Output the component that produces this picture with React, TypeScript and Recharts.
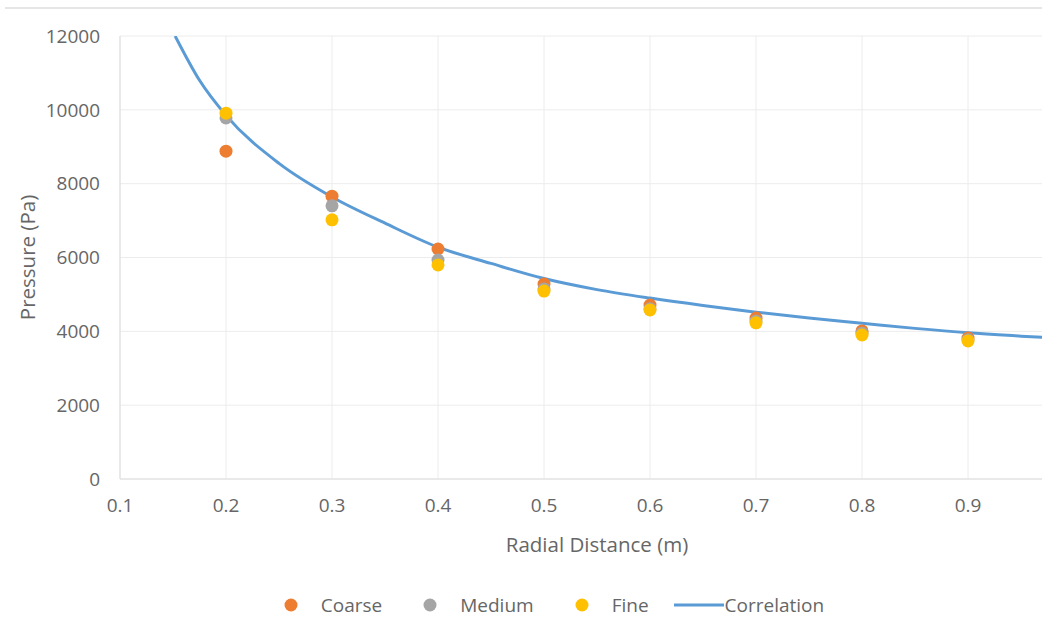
import {
  ComposedChart,
  Scatter,
  Line,
  XAxis,
  YAxis,
  CartesianGrid,
  Legend,
} from "recharts";

// radial positions of the mesh samples (m)
const RADII = [0.2, 0.3, 0.4, 0.5, 0.6, 0.7, 0.8, 0.9];

// pressure readings (Pa) per mesh
const COARSE = [8880, 7660, 6230, 5280, 4710, 4360, 4010, 3820];
const MEDIUM = [9780, 7400, 5930, 5150, 4610, 4280, 3950, 3770];
const FINE = [9910, 7020, 5800, 5090, 4580, 4230, 3900, 3740];

// correlation curve
const CURVE_R = [0.152, 0.175, 0.2, 0.25, 0.3, 0.35, 0.4, 0.45, 0.5, 0.55, 0.6, 0.65, 0.7, 0.75, 0.8, 0.85, 0.9, 0.95, 1.0];
const CURVE_P = [12000, 10800, 9850, 8550, 7640, 6930, 6280, 5840, 5430, 5130, 4900, 4700, 4520, 4360, 4220, 4080, 3960, 3870, 3790];

const X_TICKS = [0.1, 0.2, 0.3, 0.4, 0.5, 0.6, 0.7, 0.8, 0.9];
const Y_TICKS = [0, 2000, 4000, 6000, 8000, 10000, 12000];

const FONT = "'Open Sans', sans-serif";
const TEXT = "#666666";
const GRID = "#ececec";

const toPoints = (vals: number[]) => RADII.map((r, i) => ({ r, p: vals[i] }));

const coarseData = toPoints(COARSE);
const mediumData = toPoints(MEDIUM);
const fineData = toPoints(FINE);
const curveData = CURVE_R.map((r, i) => ({ r, p: CURVE_P[i] }));

const SERIES = [
  { name: "Coarse", color: "#ED7D31", kind: "dot" },
  { name: "Medium", color: "#A5A5A5", kind: "dot" },
  { name: "Fine", color: "#FFC000", kind: "dot" },
  { name: "Correlation", color: "#5B9BD5", kind: "line" },
];

function dotShape(color: string) {
  return (props: any) => (
    <circle cx={props.cx} cy={props.cy} r={6.5} fill={color} />
  );
}

function XTitle(props: any) {
  const vb = props.viewBox;
  return (
    <text
      x={vb.x + vb.width / 2}
      y={552}
      textAnchor="middle"
      fill={TEXT}
      fontSize={20.5}
      fontFamily={FONT}
    >
      Radial Distance (m)
    </text>
  );
}

function YTitle(props: any) {
  const vb = props.viewBox;
  const cy = vb.y + vb.height / 2;
  return (
    <text
      x={27}
      y={cy}
      transform={`rotate(-90, 27, ${cy})`}
      textAnchor="middle"
      dominantBaseline="central"
      fill={TEXT}
      fontSize={20.5}
      fontFamily={FONT}
    >
      Pressure (Pa)
    </text>
  );
}

function LegendBox() {
  return (
    <div
      style={{
        display: "flex",
        justifyContent: "center",
        alignItems: "center",
        height: 24,
        paddingLeft: 34,
        fontFamily: FONT,
        fontSize: 19,
        color: TEXT,
      }}
    >
      {SERIES.map((s, i) => (
        <div
          key={s.name}
          style={{
            display: "flex",
            alignItems: "center",
            marginLeft: i === 0 ? 0 : s.kind === "line" ? 25 : 41,
          }}
        >
          {s.kind === "dot" ? (
            <svg width={14} height={14} style={{ marginRight: 23 }}>
              <circle cx={7} cy={7} r={6.5} fill={s.color} />
            </svg>
          ) : (
            <svg width={50} height={14} style={{ marginRight: 1 }}>
              <line x1={0} y1={7} x2={50} y2={7} stroke={s.color} strokeWidth={3} />
            </svg>
          )}
          <span>{s.name}</span>
        </div>
      ))}
    </div>
  );
}

export default function App() {
  return (
    <div
      style={{
        position: "absolute",
        left: 0,
        top: 0,
        width: 1042,
        height: 617,
        overflow: "hidden",
        background: "#ffffff",
      }}
    >
      <div
        style={{
          position: "absolute",
          left: 5,
          top: 7,
          width: 1100,
          height: 2,
          background: "#e6e6e6",
        }}
      />
      <ComposedChart
        width={1108}
        height={617}
        margin={{ top: 36, right: 34, bottom: 0, left: 0 }}
      >
        <CartesianGrid stroke={GRID} />
        <XAxis
          type="number"
          dataKey="r"
          domain={[0.1, 1.0]}
          ticks={X_TICKS}
          tickFormatter={(v: number) => v.toFixed(1)}
          allowDataOverflow
          height={114}
          stroke="#dddddd"
          tickLine={false}
          tickSize={0}
          tickMargin={20}
          tick={{ fill: TEXT, fontSize: 19, fontFamily: FONT }}
          label={<XTitle />}
        />
        <YAxis
          type="number"
          domain={[0, 12000]}
          ticks={Y_TICKS}
          allowDataOverflow
          width={120}
          stroke="#dddddd"
          tickLine={false}
          tickSize={0}
          tickMargin={20}
          tick={{ fill: TEXT, fontSize: 19, fontFamily: FONT }}
          label={<YTitle />}
        />
        <Legend verticalAlign="bottom" height={24} content={<LegendBox />} />
        <Scatter
          name="Coarse"
          data={coarseData}
          dataKey="p"
          fill="#ED7D31"
          shape={dotShape("#ED7D31")}
          isAnimationActive={false}
        />
        <Scatter
          name="Medium"
          data={mediumData}
          dataKey="p"
          fill="#A5A5A5"
          shape={dotShape("#A5A5A5")}
          isAnimationActive={false}
        />
        <Scatter
          name="Fine"
          data={fineData}
          dataKey="p"
          fill="#FFC000"
          shape={dotShape("#FFC000")}
          isAnimationActive={false}
        />
        <Line
          name="Correlation"
          data={curveData}
          dataKey="p"
          type="monotone"
          stroke="#5B9BD5"
          strokeWidth={3}
          dot={false}
          activeDot={false}
          isAnimationActive={false}
        />
      </ComposedChart>
    </div>
  );
}
